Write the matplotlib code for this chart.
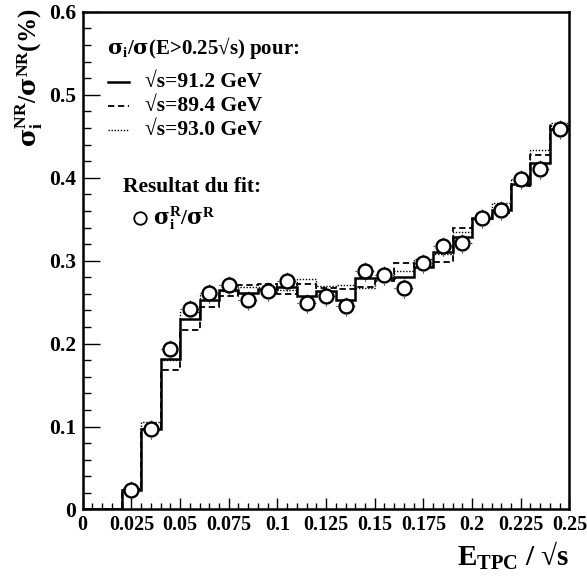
import numpy as np
import matplotlib; matplotlib.use("Agg")
import matplotlib.pyplot as plt
from matplotlib.ticker import MultipleLocator

plt.rcParams["font.family"] = ["Liberation Serif", "DejaVu Serif"]
plt.rcParams["font.weight"] = "bold"
plt.rcParams["mathtext.fontset"] = "custom"
plt.rcParams["mathtext.rm"] = "Liberation Serif:bold"
plt.rcParams["mathtext.bf"] = "Liberation Serif:bold"
plt.rcParams["mathtext.it"] = "Liberation Serif:italic:bold"
plt.rcParams["mathtext.sf"] = "DejaVu Serif:bold"

# bin edges in E_TPC/sqrt(s), width 0.01
edges = np.round(np.arange(0, 0.2501, 0.01), 3)
# sigma_i / sigma(E>0.25 sqrt s) for the three energies
h912 = [0, 0, 0.023, 0.097, 0.182, 0.230, 0.253, 0.265, 0.261, 0.266, 0.268, 0.257, 0.263,
        0.253, 0.279, 0.279, 0.280, 0.293, 0.310, 0.329, 0.352, 0.361, 0.393, 0.418, 0.459]
h894 = [0, 0, 0.023, 0.097, 0.168, 0.217, 0.244, 0.257, 0.271, 0.272, 0.260, 0.272, 0.267,
        0.266, 0.268, 0.276, 0.297, 0.292, 0.299, 0.339, 0.350, 0.358, 0.390, 0.427, 0.463]
h930 = [0, 0, 0.026, 0.105, 0.180, 0.238, 0.259, 0.263, 0.268, 0.268, 0.265, 0.278, 0.269,
        0.271, 0.267, 0.278, 0.288, 0.302, 0.308, 0.335, 0.352, 0.369, 0.397, 0.433, 0.466]
# fit result sigma_i^R / sigma^R at bin centres
fit_x = np.round(np.arange(0.025, 0.2451, 0.01), 3)
fit_y = [0.024, 0.097, 0.194, 0.242, 0.261, 0.271, 0.253, 0.264, 0.275, 0.249, 0.257, 0.245,
         0.287, 0.283, 0.267, 0.297, 0.318, 0.321, 0.351, 0.361, 0.398, 0.410, 0.459]
fit_err = 0.012

xticks = [0, 0.025, 0.05, 0.075, 0.1, 0.125, 0.15, 0.175, 0.2, 0.225, 0.25]
xlabels = ["0", "0.025", "0.05", "0.075", "0.1", "0.125", "0.15", "0.175", "0.2", "0.225", "0.25"]
yticks = [0, 0.1, 0.2, 0.3, 0.4, 0.5, 0.6]
ylabels = ["0", "0.1", "0.2", "0.3", "0.4", "0.5", "0.6"]

S = r"$\mathsf{\sigma}$"

fig = plt.figure(figsize=(5.87, 5.84), dpi=100)
ax = fig.add_axes([0.1409, 0.1276, 0.8291, 0.852])

ax.stairs(h930, edges, baseline=None, color="k", lw=1.0, ls=(0, (1, 1.2)))
ax.stairs(h894, edges, baseline=None, color="k", lw=1.3, ls=(0, (3.5, 2)))
ax.stairs(h912, edges, baseline=None, color="k", lw=1.8)
eb = ax.errorbar(fit_x, fit_y, yerr=fit_err, xerr=0.005, fmt="none", ecolor="k",
                 elinewidth=0.8, zorder=3)
for c in eb.lines[2]:
    c.set_linestyle(":")
ax.plot(fit_x, fit_y, "o", ms=10, mfc="white", mec="k", mew=1.7, zorder=4)

ax.set_xlim(0, 0.25)
ax.set_ylim(0, 0.6)
ax.set_xticks(xticks, xlabels)
ax.set_yticks(yticks, ylabels)
ax.xaxis.set_minor_locator(MultipleLocator(0.005))
ax.yaxis.set_minor_locator(MultipleLocator(0.02))
ax.tick_params(which="both", direction="in", top=False, right=False, width=1.0)
ax.tick_params(axis="y", which="major", length=12, pad=5, labelsize=15.5)
ax.tick_params(axis="y", which="minor", length=6)
ax.tick_params(axis="x", which="major", length=8, pad=4, labelsize=14.5)
ax.tick_params(axis="x", which="minor", length=4)
for s in ax.spines.values():
    s.set_linewidth(1.8)

# legend text block
tx = ax.transAxes
ax.text(0.05, 0.928, S + r"$_\mathbf{i}$/" + S + "(E>0.25√s) pour:", transform=tx,
        fontsize=15, va="center", ha="left")
labels = ["√s=91.2 GeV", "√s=89.4 GeV", "√s=93.0 GeV"]
styles = [dict(lw=1.8), dict(lw=1.3, ls=(0, (3.5, 2))), dict(lw=1.0, ls=(0, (1, 1.2)))]
ys = [0.859, 0.811, 0.763]
for lab, st, yy in zip(labels, styles, ys):
    ax.plot([0.052, 0.096], [yy, yy], color="k", transform=tx, **st)
    ax.text(0.128, yy, lab, transform=tx, fontsize=15.5, va="center", ha="left")
ax.text(0.083, 0.648, "Resultat du fit:", transform=tx, fontsize=15.5, va="center", ha="left")
ax.plot([0.118], [0.585], "o", ms=9, mfc="white", mec="k", mew=1.3, transform=tx)
ax.text(0.145, 0.585, S + r"$_\mathbf{i}^\mathbf{R}$/" + S + r"$^\mathbf{R}$", transform=tx,
        fontsize=15.5, va="center", ha="left")

fig.text(0.05, 0.985, S + r"$_\mathbf{i}^\mathbf{NR}$/" + S + r"$^\mathbf{NR}$(%)", rotation=90,
         fontsize=18, ha="center", va="top")
fig.text(0.97, 0.02, r"E$_\mathbf{TPC}$ / √s", fontsize=21, ha="right", va="bottom")

fig.savefig("out.png", dpi=100)
